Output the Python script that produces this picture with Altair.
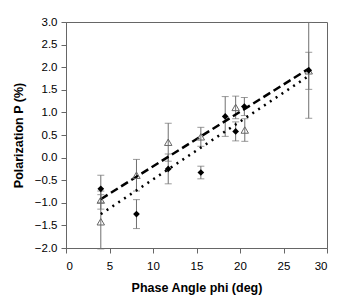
import altair as alt
import pandas as pd

# Series A: filled diamonds
phase_a = [4.0, 8.1, 11.75, 15.5, 18.3, 19.5, 20.5, 27.9]
pol_a = [-0.69, -1.25, -0.25, -0.33, 0.91, 0.58, 1.13, 1.93]
err_a = [0.30, 0.32, 0.33, 0.14, 0.44, 0.21, 0.20, 1.06]

# Series B: open triangles
phase_b = [4.0, 4.0, 8.1, 11.75, 15.5, 19.5, 20.55, 27.9]
pol_b = [-0.94, -1.42, -0.39, 0.34, 0.46, 1.11, 0.61, 1.92]
err_b = [0.20, 0.60, 0.35, 0.42, 0.21, 0.25, 0.25, 0.41]

# Fitted lines (end points)
fit_x = [4.0, 28.0]
fit_dashed = [-0.92, 1.98]
fit_dotted = [-1.25, 1.82]

x_ticks = [0, 5, 10, 15, 20, 25, 30]
y_ticks = [-2, -1.5, -1, -0.5, 0, 0.5, 1, 1.5, 2, 2.5, 3]

rows = []
for x, y, e in zip(phase_a, pol_a, err_a):
    rows.append({"phi": x, "P": y, "lo": y - e, "hi": y + e, "s": "A"})
for x, y, e in zip(phase_b, pol_b, err_b):
    rows.append({"phi": x, "P": y, "lo": y - e, "hi": y + e, "s": "B"})
df = pd.DataFrame(rows)

lines = pd.DataFrame({
    "phi": fit_x * 2,
    "P": fit_dashed + fit_dotted,
    "fit": ["dashed"] * 2 + ["dotted"] * 2,
})

xs = alt.Scale(domain=[0, 30], nice=False)
ys = alt.Scale(domain=[-2, 3], nice=False)
xaxis = alt.Axis(values=x_ticks, grid=False, labelOverlap=False)
yaxis = alt.Axis(values=y_ticks, format=".1f", grid=False, labelOverlap=False)
xt = "Phase Angle phi (deg)"
yt = "Polarization P (%)"

X = alt.X("phi:Q", scale=xs, title=xt, axis=xaxis)
Y = alt.Y("P:Q", scale=ys, title=yt, axis=yaxis)

base = alt.Chart(df)
err_col = "#707070"

rules = base.mark_rule(color=err_col, strokeWidth=1).encode(
    x=X, y=alt.Y("lo:Q", scale=ys, title=yt, axis=yaxis), y2="hi:Q")
cap_lo = base.mark_tick(color=err_col, size=7, thickness=1, orient="horizontal").encode(
    x=X, y=alt.Y("lo:Q", scale=ys, title=yt, axis=yaxis))
cap_hi = base.mark_tick(color=err_col, size=7, thickness=1, orient="horizontal").encode(
    x=X, y=alt.Y("hi:Q", scale=ys, title=yt, axis=yaxis))

dashed = alt.Chart(lines).transform_filter(alt.datum.fit == "dashed").mark_line(
    color="black", strokeWidth=2.5, strokeDash=[8, 4]).encode(x=X, y=Y)
dotted = alt.Chart(lines).transform_filter(alt.datum.fit == "dotted").mark_line(
    color="black", strokeWidth=2.5, strokeDash=[2, 5]).encode(x=X, y=Y)

diam = base.transform_filter(alt.datum.s == "A").mark_point(
    shape="diamond", filled=True, color="black", size=45, opacity=1).encode(x=X, y=Y)
tri = base.transform_filter(alt.datum.s == "B").mark_point(
    shape="triangle-up", filled=False, color="#666666", strokeWidth=1, size=55,
    opacity=1).encode(x=X, y=Y)

chart = alt.layer(rules, cap_lo, cap_hi, dashed, dotted, tri, diam).properties(
    width=261, height=226,
    autosize=alt.AutoSizeParams(type="none"),
    padding={"left": 58, "top": 14, "right": 10, "bottom": 47},
).configure_view(stroke="#666666", strokeWidth=1).configure_axis(
    domainColor="#666666", tickColor="#666666", tickSize=5,
    labelFont="Liberation Sans", labelFontSize=11.5, labelColor="black",
    titleFont="Liberation Sans", titleFontSize=12.5, titleFontWeight="bold",
    titleColor="black",
).configure_axisX(labelPadding=7, titlePadding=10).configure_axisY(
    labelPadding=4, titlePadding=9)

chart.save("out.html", embed_options={"renderer": "svg", "actions": False})
